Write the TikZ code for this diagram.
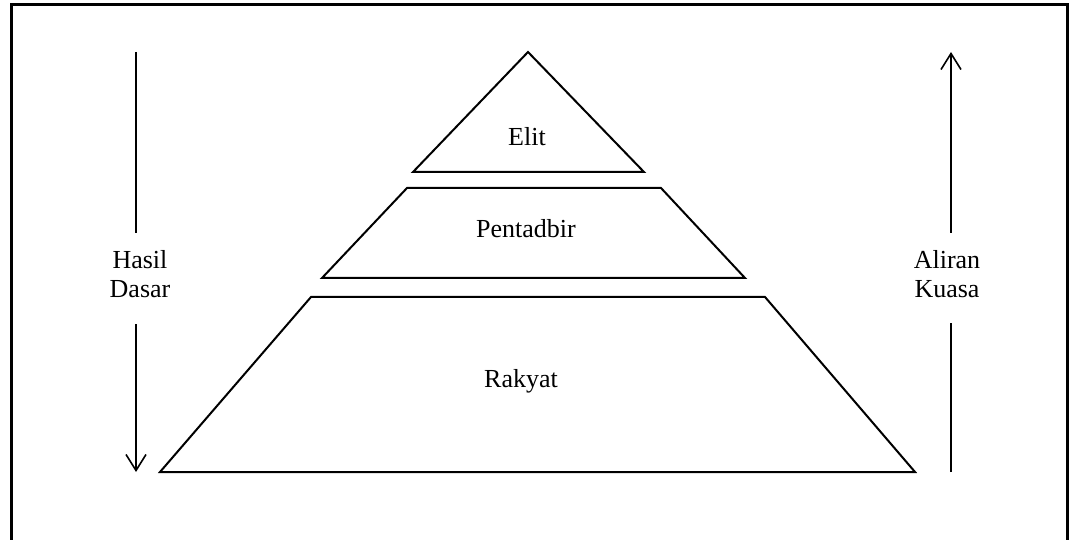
\documentclass[tikz,border=0pt]{standalone}
\usepackage{fontspec}
\setmainfont{Liberation Serif}
\usetikzlibrary{arrows.meta}
\begin{document}
\begin{tikzpicture}[x=1pt,y=-1pt,
  shape line/.style={draw=black,line width=2pt,line join=miter},
  flow/.style={draw=black,line width=1.8pt,-{Straight Barb[length=16pt,width=20pt,line width=1.6pt]}},
  flowseg/.style={draw=black,line width=1.8pt},
  label/.style={font=\fontsize{26}{29.5}\selectfont,inner sep=0pt,anchor=base,align=center}]
\useasboundingbox (0,0) rectangle (1069,540);
\clip (0,0) rectangle (1069,540);
% frame
\draw[line width=3pt] (11,5) -- (1067,5) -- (1067,548) -- (11,548) -- cycle;
% layers
\draw[shape line] (528,52) -- (644,172) -- (413,172) -- cycle;
\draw[shape line] (407,188) -- (661,188) -- (745,278) -- (322,278) -- cycle;
\draw[shape line] (311,297) -- (765,297) -- (915,472) -- (160,472) -- cycle;
% labels
\node[label] (elit) at (527,146) {Elit};
\node[label] (pent) at (526,238) {Pentadbir};
\node[label] (rak) at (521,387) {Rakyat};
\node[label] (hd) at (140,298) {Hasil\\Dasar};
\node[label] (ak) at (947,298) {Aliran\\Kuasa};
% left arrow
\coordinate (l1) at (136,52);
\coordinate (l2) at (136,233);
\coordinate (l3) at (136,324);
\coordinate (l4) at (136,472);
\draw[flowseg] (l1) -- (l2);
\draw[flow] (l3) -- (l4);
% right arrow
\coordinate (r1) at (951,472);
\coordinate (r2) at (951,323);
\coordinate (r3) at (951,233);
\coordinate (r4) at (951,52);
\draw[flowseg] (r1) -- (r2);
\draw[flow] (r3) -- (r4);
\end{tikzpicture}
\end{document}
